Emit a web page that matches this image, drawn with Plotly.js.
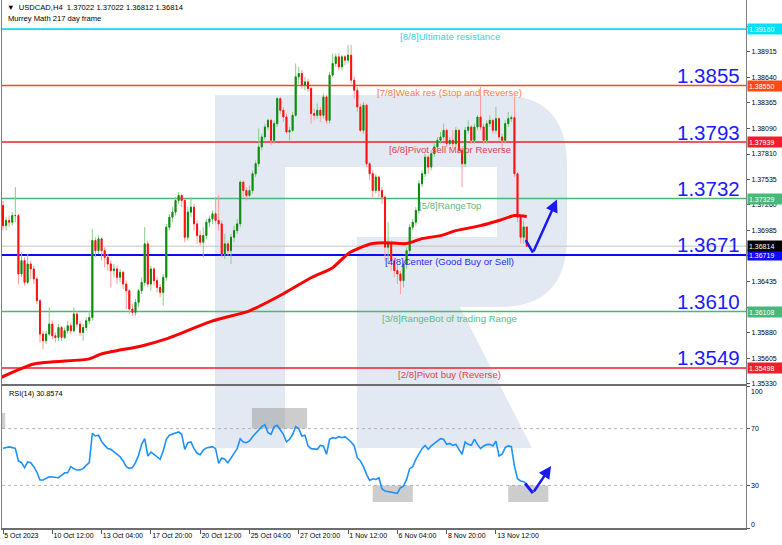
<!DOCTYPE html>
<html>
<head>
<meta charset="utf-8">
<script src="https://cdn.plot.ly/plotly-3.0.1.min.js"></script>
<style>html,body{margin:0;padding:0;background:#fff;}#chart{width:782px;height:545px;}</style>
</head>
<body>
<div id="chart"></div>
<script>
// ---------------- DATA ----------------
const firstOpen = 1.37254;
const closes = [
1.37037,1.37091,1.37073,1.37145,1.37145,1.36514,1.36658,1.36423,1.36622,1.36568,
1.36460,1.36225,1.35864,1.35792,1.35864,1.35972,1.35846,1.35828,1.35936,1.35828,
1.35900,1.35954,1.35900,1.36081,1.35972,1.35882,1.35936,1.36008,1.36044,1.36875,
1.36766,1.36893,1.36766,1.36694,1.36622,1.36550,1.36568,1.36478,1.36532,1.36405,
1.36333,1.36135,1.36099,1.36207,1.36333,1.36423,1.36839,1.36405,1.36568,1.36442,
1.36369,1.36315,1.36478,1.37019,1.37127,1.37182,1.37308,1.37362,1.37308,1.36911,
1.37182,1.37236,1.37055,1.36929,1.36857,1.36929,1.37073,1.37109,1.37164,1.37091,
1.37055,1.36730,1.36839,1.36766,1.36911,1.36983,1.37055,1.37506,1.37416,1.37362,
1.37416,1.37597,1.37705,1.37886,1.37994,1.38102,1.38174,1.37958,1.38138,1.38409,
1.38283,1.38210,1.38048,1.38066,1.38228,1.38644,1.38680,1.38553,1.38589,1.38517,
1.38247,1.38228,1.38283,1.38228,1.38427,1.38174,1.38662,1.38788,1.38860,1.38752,
1.38860,1.38824,1.38878,1.38608,1.38499,1.38319,1.38066,1.38337,1.37705,1.37597,
1.37416,1.37561,1.37416,1.37344,1.36803,1.36839,1.36658,1.36550,1.36514,1.36442,
1.36622,1.36766,1.37019,1.37073,1.37200,1.37488,1.37597,1.37777,1.37669,1.37813,
1.37886,1.37958,1.37994,1.38066,1.37922,1.37958,1.37922,1.38066,1.37849,1.37705,
1.38066,1.38102,1.37958,1.38102,1.38210,1.38102,1.37958,1.38138,1.38174,1.38066,
1.38192,1.37994,1.37958,1.38138,1.38192,1.38203,1.37597,1.37127,1.36911,1.37022,
1.36814];
const highs = [
1.37308,1.37127,1.37145,1.37182,1.37452,1.37164,1.36748,1.36694,1.36730,1.36658,
1.36604,1.36478,1.36243,1.35900,1.35900,1.36153,1.36008,1.35882,1.35972,1.35954,
1.35936,1.36008,1.35990,1.36153,1.36117,1.36008,1.35972,1.36044,1.36117,1.37001,
1.36911,1.36929,1.36911,1.36803,1.36730,1.36658,1.36622,1.36604,1.36568,1.36550,
1.36442,1.36351,1.36189,1.36243,1.36351,1.36478,1.37019,1.36875,1.36604,1.36586,
1.36478,1.36405,1.36514,1.37055,1.37164,1.37236,1.37344,1.37398,1.37380,1.37326,
1.37236,1.37344,1.37272,1.37091,1.36983,1.37019,1.37109,1.37145,1.37200,1.37344,
1.37362,1.37091,1.36947,1.36875,1.36947,1.37037,1.37109,1.37525,1.37525,1.37452,
1.37470,1.37633,1.37741,1.38084,1.38030,1.38138,1.38192,1.38192,1.38174,1.38427,
1.38427,1.38319,1.38247,1.38102,1.38265,1.38788,1.38752,1.38716,1.38644,1.38626,
1.38535,1.38301,1.38355,1.38319,1.38463,1.38445,1.38698,1.38896,1.38896,1.38896,
1.38878,1.38878,1.38987,1.38987,1.38644,1.38535,1.38355,1.38373,1.38355,1.37723,
1.37633,1.37597,1.37579,1.37452,1.37362,1.37073,1.36875,1.36694,1.36622,1.36550,
1.36658,1.36803,1.37055,1.37109,1.37236,1.37525,1.37633,1.37813,1.37795,1.37849,
1.37922,1.37994,1.38048,1.38138,1.38084,1.37994,1.38066,1.38102,1.38084,1.37886,
1.38102,1.38174,1.38120,1.38138,1.38228,1.38535,1.38138,1.38174,1.38228,1.38192,
1.38319,1.38210,1.38030,1.38174,1.38265,1.38228,1.38427,1.37615,1.37145,1.37091,
1.37022];
const lows = [
1.36983,1.36983,1.37019,1.37037,1.37073,1.36405,1.36478,1.36387,1.36405,1.36460,
1.36405,1.36189,1.35774,1.35701,1.35756,1.35846,1.35810,1.35774,1.35792,1.35792,
1.35810,1.35864,1.35864,1.35882,1.35936,1.35846,1.35792,1.35900,1.35972,1.36008,
1.36694,1.36730,1.36658,1.36586,1.36550,1.36369,1.36478,1.36405,1.36423,1.36351,
1.36135,1.36081,1.36062,1.36062,1.36153,1.36297,1.36387,1.36369,1.36333,1.36387,
1.36315,1.36261,1.36171,1.36442,1.36983,1.37073,1.37145,1.37272,1.37236,1.36857,
1.36875,1.37127,1.36983,1.36839,1.36821,1.36694,1.36893,1.37019,1.37055,1.37055,
1.36983,1.36694,1.36676,1.36712,1.36622,1.36857,1.36947,1.37019,1.37344,1.37308,
1.37344,1.37380,1.37561,1.37669,1.37849,1.37958,1.38066,1.37904,1.37922,1.38102,
1.38247,1.38156,1.38030,1.37958,1.38048,1.38210,1.38571,1.38517,1.38499,1.38481,
1.38138,1.38174,1.38192,1.38156,1.38192,1.38138,1.38138,1.38644,1.38752,1.38716,
1.38716,1.38770,1.38788,1.38571,1.38409,1.38265,1.38048,1.38030,1.37669,1.37525,
1.37344,1.37380,1.37344,1.37272,1.36658,1.36622,1.36550,1.36478,1.36405,1.36297,
1.36369,1.36568,1.36730,1.36983,1.37037,1.37164,1.37452,1.37561,1.37597,1.37633,
1.37777,1.37849,1.37922,1.37958,1.37886,1.37904,1.37867,1.37886,1.37813,1.37452,
1.37669,1.38030,1.37922,1.37922,1.38066,1.38066,1.37922,1.37922,1.38102,1.38030,
1.38030,1.37958,1.37849,1.37922,1.38102,1.38156,1.37561,1.37073,1.36839,1.36839,
1.36812];
const rsiValues = [
56.1,56.6,57.1,56.6,56.1,47.2,46.0,42.5,46.5,46.0,
43.2,39.4,33.8,33.8,35.0,36.1,35.9,35.4,35.4,37.1,
38.9,38.9,43.2,41.8,40.8,40.8,41.8,44.1,46.0,66.7,
64.8,65.3,61.0,58.2,55.9,55.4,53.5,51.9,50.2,47.2,
43.2,42.0,42.5,46.0,51.2,58.9,62.9,50.7,53.5,51.9,
50.2,48.4,54.2,62.5,65.3,66.0,67.2,67.6,66.0,55.4,
60.1,60.6,55.9,52.6,51.6,54.9,56.4,56.8,57.3,55.9,
45.5,49.3,48.4,46.0,49.5,53.1,55.9,62.9,60.6,60.1,
61.3,64.3,66.7,69.5,71.4,72.8,67.2,66.0,71.4,72.3,
69.5,66.0,60.6,62.5,65.8,71.4,70.0,64.8,65.3,57.8,
55.9,55.4,55.4,58.2,57.8,51.9,62.5,63.6,63.2,64.3,
63.6,64.3,62.5,60.6,57.8,49.5,47.2,43.2,37.8,33.5,
34.7,34.2,35.4,27.7,26.0,25.5,24.8,24.8,24.4,28.4,
29.5,34.2,41.8,43.2,48.4,52.6,55.9,58.2,55.4,57.8,
59.6,61.1,62.9,62.5,58.9,59.6,58.2,58.9,55.0,51.9,
60.6,58.9,58.2,62.5,58.9,55.9,57.8,58.7,58.9,57.8,
61.1,50.7,52.0,56.6,57.8,57.3,43.6,34.7,33.1,32.6,
30.86];
const maBars = [-1,10,28,32,45,53,68,80,91,100,107,112,116,120,124,131,136,142,147,155,161,166,170];
const maValues = [1.35390,1.35541,1.35596,1.35650,1.35736,1.35812,1.36007,1.36116,1.36300,1.36473,1.36582,1.36733,1.36798,1.36842,1.36852,1.36842,1.36896,1.36928,1.36982,1.37036,1.37091,1.37145,1.37134];

const levelValues = [1.39160,1.38550,1.37939,1.37329,1.36719,1.36108,1.35498];
const levelNames = ['[8/8]Ultimate resistance','[7/8]Weak res (Stop and Reverse)','[6/8]Pivot sell Major Reverse','[5/8]RangeTop','[4/8]Center (Good Buy or Sell)','[3/8]RangeBot of trading Range','[2/8]Pivot buy (Reverse)'];
const levelShort = ['','1.3855','1.3793','1.3732','1.3671','1.3610','1.3549'];
const levelTags = ['1.39160','1.38550','1.37939','1.37329','1.36719','1.36108','1.35498'];
const levelLineColors = ['#00e1f5','#ff4a12','#f01e2c','#48b878','#0a0aff','#48b878','#f01e2c'];
const levelTextColors = ['#35d3ef','#ff7a45','#e8404e','#5dba80','#2a2aff','#5dba80','#e8404e'];
const currentPrice = 1.36814;
const currentTag = '1.36814';

const priceTicks = [1.39190,1.38915,1.38640,1.38365,1.38090,1.37810,1.37535,1.37260,1.36985,1.36710,1.36435,1.36155,1.35880,1.35605,1.35330];
const priceTicksHiddenByTags = [1.39190,1.36710,1.36155];
const dateTickBars = [0,16,32,48,64,80,96,112,128,144,160];
const dateLabels = ['5 Oct 2023','10 Oct 12:00','13 Oct 04:00','17 Oct 20:00','20 Oct 12:00','25 Oct 04:00','27 Oct 20:00','1 Nov 12:00','6 Nov 04:00','8 Nov 20:00','13 Nov 12:00'];
const rsiLevels = [100,70,30,0];
const headerLine1 = '\u25BC  USDCAD,H4  1.37022 1.37022 1.36812 1.36814';
const headerLine2 = 'Murrey Math 217 day frame';
const rsiTitle = 'RSI(14) 30.8574';

// ---------------- BUILD ----------------
const n = closes.length;
const bars = Array.from({length:n},(_,i)=>i);
const opens = [firstOpen].concat(closes.slice(0,n-1));
const bodyHi = opens.map((o,i)=>Math.max(o,closes[i]));
const bodyLo = opens.map((o,i)=>Math.min(o,closes[i]));

const FONT = 'Liberation Sans, Arial, sans-serif';
const W = 782, H = 545, ML = 2, MR = 36, MT = 0, MB = 17;
const plotW = W-ML-MR, plotH = H-MT-MB;
const PX = px => (px-ML)/plotW;
const PY = py => (plotH+MT-py)/plotH;
const mainDomain = [PY(384), 1];
const rsiDomain = [0, PY(386)];
const xRange = [-0.325, 241.16];

const traces = [
  {type:'candlestick', x:bars, open:opens, high:highs, low:lows, close:closes, xaxis:'x', yaxis:'y',
   increasing:{line:{color:'#86cc86', width:1}, fillcolor:'#86cc86'},
   decreasing:{line:{color:'#ff9a9a', width:1}, fillcolor:'#ff9a9a'},
   whiskerwidth:0, hoverinfo:'skip', showlegend:false},
  {type:'candlestick', x:bars, open:opens, high:bodyHi, low:bodyLo, close:closes, xaxis:'x', yaxis:'y',
   increasing:{line:{color:'#0c8a0c', width:1}, fillcolor:'#0c8a0c'},
   decreasing:{line:{color:'#ff1010', width:1}, fillcolor:'#ff1010'},
   whiskerwidth:0, hoverinfo:'skip', showlegend:false},
  {type:'scatter', mode:'lines', x:maBars, y:maValues, xaxis:'x', yaxis:'y',
   line:{color:'#ff0000', width:3, shape:'spline', smoothing:0.6}, hoverinfo:'skip', showlegend:false},
  {type:'scatter', mode:'lines', x:bars, y:rsiValues, xaxis:'x2', yaxis:'y2',
   line:{color:'#1e90ff', width:1.6}, hoverinfo:'skip', showlegend:false}
];

// watermark "R" (background logo), paper coordinates
const P = (x,y) => PX(x).toFixed(4)+','+PY(y).toFixed(4);
const path = 'M '+P(215,95)+' L '+P(500,95)+' Q '+P(567,95)+' '+P(567,165)+
  ' L '+P(567,237)+' Q '+P(567,307)+' '+P(500,307)+
  ' L '+P(460,307)+' L '+P(532,448)+' L '+P(357,448)+' L '+P(357,237)+
  ' L '+P(497,237)+' L '+P(497,167)+' L '+P(285,167)+' L '+P(285,448)+
  ' L '+P(215,448)+' Z';

const shapes = [
  {type:'path', xref:'paper', yref:'paper', path:path, fillcolor:'#e3e9f2', line:{width:0}, layer:'below'}
];
levelValues.forEach((v,i)=>{
  shapes.push({type:'line', xref:'paper', x0:0, x1:1, yref:'y', y0:v, y1:v,
    line:{color:levelLineColors[i], width: i===4 ? 2 : 1.6}, layer:'below'});
});
shapes.push({type:'line', xref:'paper', x0:0, x1:1, yref:'y', y0:currentPrice, y1:currentPrice,
  line:{color:'#c4c4c4', width:1}, layer:'below'});
[70,30].forEach(v=>shapes.push({type:'line', xref:'paper', x0:0, x1:1, yref:'y2', y0:v, y1:v,
  line:{color:'#b4b4b4', width:1, dash:'dot'}, layer:'below'}));
const boxFill = 'rgba(135,135,135,0.42)';
[[80.8,98.7,70,84.5],[-1,0.7,70,81],[120,133,18.3,30],[164,177,18.3,30]].forEach(b=>{
  shapes.push({type:'rect', xref:'x2', yref:'y2', x0:b[0], x1:b[1], y0:b[2], y1:b[3], fillcolor:boxFill, line:{width:0}, layer:'below'});
});

const annotations = [];
annotations.push({xref:'paper', yref:'paper', x:0, y:1, xanchor:'left', yanchor:'top', xshift:3, yshift:-1,
  text:headerLine1, showarrow:false, font:{family:FONT, size:7.6, color:'#000'}});
annotations.push({xref:'paper', yref:'paper', x:0, y:1, xanchor:'left', yanchor:'top', xshift:4, yshift:-12,
  text:headerLine2, showarrow:false, font:{family:FONT, size:7.6, color:'#000'}});
levelValues.forEach((v,i)=>{
  annotations.push({xref:'x', yref:'y', x:145, y:v, yshift:-7, xanchor:'center', yanchor:'middle',
    text:levelNames[i], showarrow:false, font:{family:FONT, size:9.6, color:levelTextColors[i]}});
  if (levelShort[i]) annotations.push({xref:'paper', yref:'y', x:1, y:v, xanchor:'right', yanchor:'middle', xshift:-4, yshift:10,
    text:levelShort[i], showarrow:false, font:{family:FONT, size:20.5, color:'#1a1aff'}});
});
const tagList = levelTags.map((t,i)=>({t:t, v:levelValues[i], c:levelLineColors[i]}));
tagList.push({t:currentTag, v:currentPrice, c:'#000000'});
tagList.forEach(o=>{
  annotations.push({xref:'paper', yref:'y', x:1, y:o.v, xanchor:'left', yanchor:'middle', xshift:1,
    text:o.t, showarrow:false, bgcolor:o.c, borderpad:1, width:32, height:8, align:'left',
    font:{family:FONT, size:7, color:'#ffffff'}});
});
annotations.push({xref:'paper', yref:'paper', x:0, y:rsiDomain[1], xanchor:'left', yanchor:'top', xshift:5, yshift:-1,
  text:rsiTitle, showarrow:false, font:{family:FONT, size:7.3, color:'#000'}});
rsiLevels.forEach(v=>{
  annotations.push({xref:'paper', yref:'y2', x:1, y:v, xanchor:'left', yanchor:'middle', xshift:3,
    yshift: v===100 ? -5 : (v===0 ? 4 : 0),
    text:String(v), showarrow:false, font:{family:FONT, size:7, color:'#000'}});
});
annotations.push({xref:'x', yref:'y', axref:'x', ayref:'y', x:172.0, y:1.36744, ax:169.4, ay:1.36896,
  text:'', showarrow:true, arrowhead:0, arrowwidth:2.5, arrowcolor:'#1a1aee'});
annotations.push({xref:'x', yref:'y', axref:'x', ayref:'y', x:179.8, y:1.37318, ax:172.0, ay:1.36744,
  text:'', showarrow:true, arrowhead:2, arrowsize:1, arrowwidth:2.5, arrowcolor:'#1a1aee'});
annotations.push({xref:'x2', yref:'y2', axref:'x2', ayref:'y2', x:172.0, y:24.6, ax:169.1, ay:32.4,
  text:'', showarrow:true, arrowhead:0, arrowwidth:3, arrowcolor:'#1a1aee'});
annotations.push({xref:'x2', yref:'y2', axref:'x2', ayref:'y2', x:177.9, y:43.7, ax:172.0, ay:24.6,
  text:'', showarrow:true, arrowhead:2, arrowsize:1, arrowwidth:2.5, arrowcolor:'#1a1aee'});

const layout = {
  width:W, height:H, margin:{l:ML, r:MR, t:MT, b:MB, pad:0},
  paper_bgcolor:'#ffffff', plot_bgcolor:'rgba(0,0,0,0)',
  showlegend:false, boxgap:0.55, dragmode:false,
  font:{family:FONT, size:7, color:'#000'},
  xaxis:{domain:[0,1], anchor:'y', range:xRange, showticklabels:false, ticks:'', showgrid:false, zeroline:false,
    showline:true, linecolor:'#6e6e6e', linewidth:1.5, rangeslider:{visible:false}, fixedrange:true},
  yaxis:{domain:mainDomain, anchor:'x', side:'right', range:[1.353248,1.394742], tickvals:priceTicks,
    ticktext:priceTicks.map(v=>priceTicksHiddenByTags.includes(v) ? '' : v.toFixed(5)),
    ticks:'outside', ticklen:3, tickcolor:'#555', showgrid:false, zeroline:false,
    showline:true, mirror:true, linecolor:'#808080', linewidth:1, tickfont:{family:FONT, size:7, color:'#000'}, fixedrange:true},
  xaxis2:{domain:[0,1], anchor:'y2', range:xRange, tickvals:dateTickBars, ticktext:dateLabels, ticks:'outside', ticklen:4,
    tickcolor:'#555', ticklabelposition:'outside right', showgrid:false, zeroline:false, showline:true, mirror:true,
    linecolor:'#6e6e6e', linewidth:1.5, tickfont:{family:FONT, size:7, color:'#000'}, fixedrange:true},
  yaxis2:{domain:rsiDomain, anchor:'x2', side:'right', range:[0,100], tickvals:rsiLevels, showticklabels:false,
    ticks:'outside', ticklen:3, tickcolor:'#555', showgrid:false, zeroline:false, showline:true, mirror:true,
    linecolor:'#808080', linewidth:1, fixedrange:true},
  shapes:shapes, annotations:annotations
};

Plotly.newPlot('chart', traces, layout, {staticPlot:true, displayModeBar:false});
</script>
</body>
</html>
